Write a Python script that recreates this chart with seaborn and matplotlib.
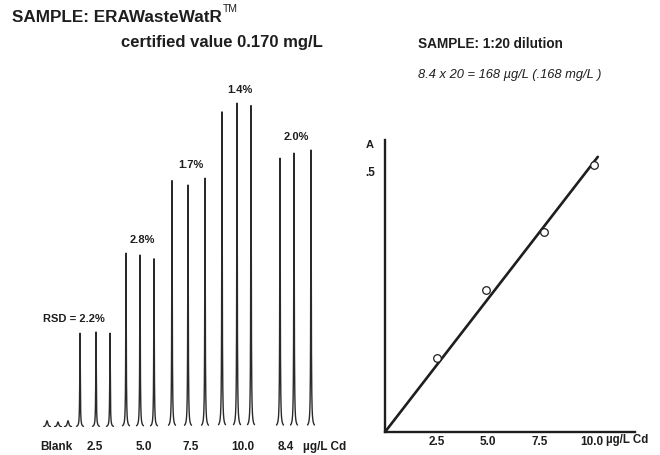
import numpy as np
import pandas as pd
import matplotlib
matplotlib.use("Agg")
import matplotlib.pyplot as plt
import seaborn as sns

# Recorder trace: injection times (chart seconds) and peak absorbance for each standard
groups = ["Blank", "2.5", "5.0", "7.5", "10.0", "8.4"]
inject_times = [[47, 58, 68], [80, 96, 110], [126, 140, 154],
                [172, 188, 205], [222, 237, 251], [280, 294, 311]]
peak_heights = [[0.010, 0.008, 0.010], [0.150, 0.152, 0.150],
                [0.278, 0.275, 0.269], [0.394, 0.387, 0.398],
                [0.504, 0.518, 0.514], [0.430, 0.438, 0.443]]
rsd_labels = ["", "RSD = 2.2%", "2.8%", "1.7%", "1.4%", "2.0%"]

# Calibration curve (µg/L Cd vs absorbance)
cal_conc = [2.5, 4.9, 7.69, 10.13]
cal_abs = [0.142, 0.272, 0.384, 0.513]
line_end = 10.3

sns.set_theme(style="white")
plt.rcParams['font.family'] = ['Liberation Sans', 'DejaVu Sans']
ink = '#1e1e1e'

W, H = 660, 455
fig = plt.figure(figsize=(W / 100, H / 100), dpi=100)


def px(x, y):
    return x / W, 1 - y / H


# build one short trace per injection
rows = []
dt = np.linspace(-3.5, 3.5, 141)
pid = 0
for g, (times, heights) in enumerate(zip(inject_times, peak_heights)):
    for t0, h in zip(times, heights):
        w = 0.9 if g == 0 else 0.3
        rows.append(pd.DataFrame({'t': t0 + dt, 'A': h / (1 + (dt / w) ** 2), 'peak': pid}))
        pid += 1
trace = pd.concat(rows, ignore_index=True)

# left panel: recorder peaks
ax1 = fig.add_axes([30 / W, 1 - 427 / H, 300 / W, 367 / H])
sns.lineplot(data=trace, x='t', y='A', units='peak', estimator=None,
             color='#2a2a2a', linewidth=1.0, ax=ax1)
ax1.set_xlim(30, 330)
ax1.set_ylim(0, 0.587)
ax1.axis('off')

# small horizontal nudges (points) so the hand-lettered labels sit like the original
label_nudge = [-1, -1, 3, 2, 4, -6]
for g, (times, heights) in enumerate(zip(inject_times, peak_heights)):
    ax1.annotate(groups[g], (times[1], 0), xytext=(label_nudge[g], -14.5), textcoords='offset points',
                 ha='center', va='center', fontsize=8.5, fontweight='bold', color=ink,
                 annotation_clip=False)
    if rsd_labels[g]:
        dx = -16 if g == 1 else 2
        ax1.annotate(rsd_labels[g], (times[1], max(heights)), xytext=(dx, 9.5),
                     textcoords='offset points', ha='center', va='center', fontsize=8,
                     fontweight='bold', color=ink, annotation_clip=False)
ax1.annotate('µg/L Cd', (inject_times[-1][-1], 0), xytext=(-6, -14.5), textcoords='offset points',
             ha='left', va='center', fontsize=8.5, fontweight='bold', color=ink,
             annotation_clip=False)

# right panel: calibration plot
ax2 = fig.add_axes([385 / W, 1 - 432 / H, 250 / W, 292 / H])
cal = pd.DataFrame({'conc': cal_conc, 'A': cal_abs})
x = np.array(cal_conc)
y = np.array(cal_abs)
slope = (x * y).sum() / (x * x).sum()
fit = pd.DataFrame({'conc': [0, line_end], 'A': [0, slope * line_end]})
sns.lineplot(data=fit, x='conc', y='A', color=ink, linewidth=1.9, ax=ax2)
sns.scatterplot(data=cal, x='conc', y='A', s=30, facecolor='white', edgecolor=ink,
                linewidth=0.9, zorder=3, ax=ax2)
ax2.set_xlim(0, 12.1)
ax2.set_ylim(0, 0.56)
ax2.set_xticks([2.5, 5.0, 7.5, 10.0])
ax2.set_xticklabels(['2.5', '5.0', '7.5', '10.0'])
ax2.set_yticks([0.1, 0.2, 0.3, 0.4, 0.5])
ax2.set_yticklabels(['', '', '', '', '.5'])
ax2.set_xlabel('')
ax2.set_ylabel('')
for s in ['top', 'right']:
    ax2.spines[s].set_visible(False)
for s in ['left', 'bottom']:
    ax2.spines[s].set_linewidth(1.7)
    ax2.spines[s].set_color(ink)
ax2.tick_params(direction='in', length=4, width=0.8, colors=ink, labelsize=8.5)
ax2.tick_params(axis='x', pad=3)
ax2.tick_params(axis='y', pad=7)
for lab in ax2.get_xticklabels() + ax2.get_yticklabels():
    lab.set_fontweight('bold')

fig.text(*px(370, 145), 'A', ha='center', va='center', fontsize=8, fontweight='bold', color=ink)
fig.text(*px(606, 440), 'µg/L Cd', ha='left', va='center', fontsize=8.3, fontweight='bold', color=ink)

# titles
fig.text(*px(12, 18), 'SAMPLE: ERAWasteWatR', ha='left', va='center',
         fontsize=12.3, fontweight='bold', color=ink)
fig.text(*px(223, 9), 'TM', ha='left', va='center', fontsize=7.5, color=ink)
fig.text(*px(121, 43), 'certified value 0.170 mg/L', ha='left', va='center',
         fontsize=12, fontweight='bold', color=ink)
fig.text(*px(418, 44), 'SAMPLE: 1:20 dilution', ha='left', va='center',
         fontsize=9.8, fontweight='bold', color=ink)
fig.text(*px(418, 75), '8.4 x 20 = 168 µg/L (.168 mg/L )', ha='left', va='center',
         fontsize=9.3, style='italic', color=ink)

fig.savefig('out.png', dpi=100)
